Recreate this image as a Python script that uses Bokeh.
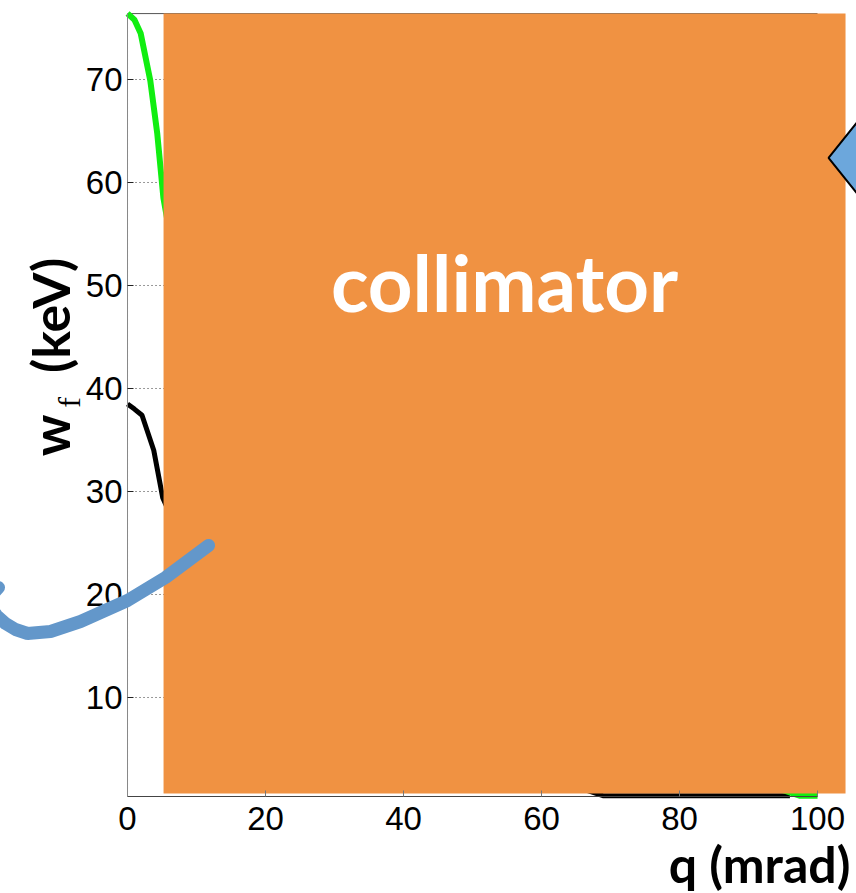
import math
from bokeh.plotting import figure
from bokeh.models import Range1d, FixedTicker
from bokeh.core.properties import value
from bokeh.embed import file_html
from bokeh.resources import INLINE

# Axes box (data units)
Q_MIN, Q_MAX = 0.0, 100.0
W_MIN, W_MAX = 0.4, 76.4
x_ticks = [0, 20, 40, 60, 80, 100]
y_ticks = [10, 20, 30, 40, 50, 60, 70]

# Visible ranges of the canvas (axes box sits inside)
view_q = (-18.41, 105.65)
view_w = (-9.03, 77.67)

# Energy curves w_f(q)
green_q = [0.0, 1.0, 1.9, 3.3, 4.3, 5.2, 8.0, 15.0, 30.0, 50.0, 70.0, 86.0, 97.5, 100.0]
green_w = [76.4, 75.8, 74.5, 69.9, 64.8, 58.5, 48.0, 35.0, 20.0, 10.0, 5.0, 3.0, 0.45, 0.45]
black_q = [0.0, 1.0, 2.1, 3.8, 5.1, 10.0, 20.0, 40.0, 62.0, 69.0, 96.0]
black_w = [38.5, 38.0, 37.4, 34.0, 29.4, 22.0, 13.0, 6.0, 2.0, 0.45, 0.45]

# Collimator region
coll_q = (5.22, 104.06)
coll_w = (0.68, 76.4)

# Callout curve and marker
blue_q = [-18.70, -19.86, -19.86, -18.99, -17.68, -16.23, -14.49, -11.16, -6.81, 0.0, 5.51, 11.74]
blue_w = [20.68, 19.81, 18.74, 17.96, 17.18, 16.60, 16.21, 16.41, 17.38, 19.42, 21.65, 24.76]
diamond_q = [101.6, 107.7, 113.8, 107.7]
diamond_w = [62.4, 67.5, 62.4, 57.3]

TICK_FONT = "'Liberation Sans Narrow', 'Liberation Sans', sans-serif"
BOLD_FONT = "Lato"

p = figure(width=856, height=893, output_backend="svg", toolbar_location=None,
           x_range=Range1d(*view_q), y_range=Range1d(*view_w),
           min_border=0, outline_line_color=None,
           background_fill_color="white", border_fill_color="white")
p.xgrid.visible = False
p.ygrid.visible = False

# axes drawn at the box edges
p.xaxis.fixed_location = W_MIN
p.xaxis.bounds = (Q_MIN, Q_MAX)
p.yaxis.fixed_location = Q_MIN
p.yaxis.bounds = (W_MIN, W_MAX)
p.xaxis.ticker = FixedTicker(ticks=x_ticks)
p.yaxis.ticker = FixedTicker(ticks=y_ticks)
for ax in (p.xaxis, p.yaxis):
    ax.minor_tick_line_color = None
    ax.major_tick_in = 6
    ax.major_tick_out = 0
    ax.major_label_text_font = TICK_FONT
    ax.major_label_text_font_size = "33px"
    ax.major_label_text_color = "black"
p.xaxis.axis_line_color = "#444444"
p.xaxis.major_tick_line_color = "#777777"
p.xaxis.major_label_standoff = 11
p.yaxis.axis_line_color = "#888888"
p.yaxis.major_tick_line_color = "#222222"
p.yaxis.major_label_standoff = 5

# top edge of the box
p.segment(x0=[Q_MIN], y0=[W_MAX], x1=[Q_MAX], y1=[W_MAX], line_color="#555555", line_width=1)

# dotted grid
p.segment(x0=[Q_MIN] * len(y_ticks), y0=y_ticks, x1=[Q_MAX] * len(y_ticks), y1=y_ticks,
          line_color="#333333", line_width=1, line_dash="1 3")
p.segment(x0=x_ticks, y0=[W_MIN] * len(x_ticks), x1=x_ticks, y1=[W_MAX] * len(x_ticks),
          line_color="#333333", line_width=1, line_dash="1 3")

# curves
p.line(black_q, black_w, line_color="black", line_width=5)
p.line(green_q, green_w, line_color="#11EE11", line_width=6)

# collimator block
p.quad(left=[coll_q[0]], right=[coll_q[1]], bottom=[coll_w[0]], top=[coll_w[1]],
       fill_color="#F09242", line_color=None)

r_blue = p.line(blue_q, blue_w, line_color="#6397CA", line_width=13, line_cap="round")
r_blue.level = "overlay"
r_dia = p.patch(diamond_q, diamond_w, fill_color="#6CA7DC", line_color="black", line_width=2)
r_dia.level = "overlay"

# texts
t1 = p.text(x=[54.64], y=[50.3], text=["collimator"], text_color="white",
            text_font=value(BOLD_FONT), text_font_style="bold", text_font_size="78px",
            text_align="center", text_baseline="middle")
t1.level = "overlay"
p.text(x=[91.6], y=[-6.21], text=["q (mrad)"], text_color="black",
       text_font=value(BOLD_FONT), text_font_style="bold", text_font_size="50px",
       text_align="center", text_baseline="middle")

# rotated axis title: w_f (keV)
p.text(x=[-11.2], y=[35.44], text=["w"], angle=math.pi / 2, text_color="black",
       text_font=value(BOLD_FONT), text_font_style="bold", text_font_size="52px",
       text_align="center", text_baseline="middle")
p.text(x=[-8.5], y=[38.64], text=["f"], angle=math.pi / 2, text_color="black",
       text_font=value("Liberation Serif"), text_font_size="32px",
       text_align="center", text_baseline="middle")
p.text(x=[-11.2], y=[47.09], text=["(keV)"], angle=math.pi / 2, text_color="black",
       text_font=value(BOLD_FONT), text_font_style="bold", text_font_size="52px",
       text_align="center", text_baseline="middle")

open("out.html", "w").write(file_html(p, INLINE))
